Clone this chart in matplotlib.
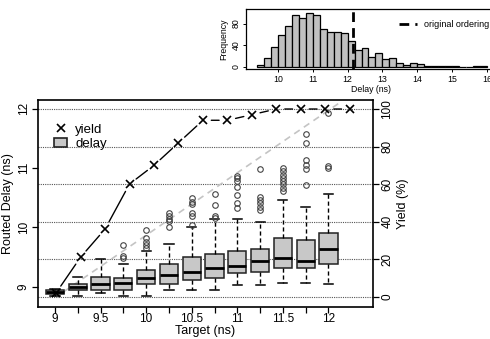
import matplotlib
matplotlib.use('Agg')
import matplotlib.pyplot as plt
from matplotlib.lines import Line2D
from matplotlib.patches import Patch
from matplotlib.transforms import blended_transform_factory

plt.rcParams['font.family'] = ['Liberation Sans', 'DejaVu Sans']

# targets (ns), one box per target
targets = [9.0, 9.25, 9.5, 9.75, 10.0, 10.25, 10.5, 10.75, 11.0, 11.25, 11.5, 11.75, 12.0]
target_labels = ['9', '', '9.5', '', '10', '', '10.5', '', '11', '', '11.5', '', '12']

# routed delay box statistics (ns)
med = [8.91, 8.99, 9.04, 9.06, 9.14, 9.20, 9.24, 9.32, 9.35, 9.44, 9.49, 9.43, 9.63]
q1 = [8.87, 8.94, 8.94, 8.94, 9.04, 9.04, 9.12, 9.14, 9.23, 9.24, 9.32, 9.32, 9.39]
q3 = [8.94, 9.04, 9.16, 9.15, 9.29, 9.38, 9.50, 9.55, 9.61, 9.63, 9.82, 9.79, 9.91]
whislo = [8.85, 8.85, 8.90, 8.85, 8.85, 8.94, 8.94, 8.94, 9.03, 9.03, 9.06, 9.06, 9.05]
whishi = [8.96, 9.17, 9.47, 9.38, 9.61, 9.72, 10.00, 10.14, 10.14, 10.09, 10.46, 10.34, 10.56]
fliers = [
    [],
    [],
    [],
    [9.70, 9.52, 9.48],
    [9.96, 9.82, 9.75, 9.70, 9.66],
    [10.25, 10.19, 10.15, 10.11, 10.00],
    [10.49, 10.43, 10.39, 10.25, 10.20, 10.04],
    [10.56, 10.38, 10.19, 10.16],
    [10.86, 10.83, 10.79, 10.68, 10.55, 10.41, 10.32],
    [10.98, 10.51, 10.46, 10.41, 10.35, 10.29],
    [11.00, 10.95, 10.89, 10.84, 10.79, 10.73, 10.67, 10.62],
    [11.57, 11.43, 11.14, 11.06, 10.98, 10.71],
    [11.93, 11.04, 11.00],
]

# yield (%) per target
yield_pct = [2, 21, 36, 60, 70, 82, 94, 94, 97, 100, 100, 100, 100]
yield_ticks = [0, 20, 40, 60, 80, 100]

# light gray reference line (target vs delay)
ref_target = [9.09, 12.12]
ref_delay = [8.91, 12.10]

# histogram of delays for the inset
hist_left = [9.4, 9.6, 9.8, 10.0, 10.2, 10.4, 10.6, 10.8, 11.0, 11.2, 11.4,
             11.6, 11.8, 12.0, 12.2, 12.4, 12.6, 12.8, 13.0, 13.2, 13.4, 13.6,
             13.8, 14.0, 14.2, 14.4, 14.6, 14.8, 15.0, 15.2, 15.4, 15.6, 15.8]
hist_count = [3, 17, 37, 58, 75, 95, 90, 100, 95, 69, 64, 64, 62, 48, 31, 34,
              18, 26, 15, 17, 8, 4, 7, 5, 2, 1, 1, 1, 1, 0, 0, 2, 1]
bin_w = 0.2
orig_delay = 12.15

BOX = '#c8c8c8'

fig = plt.figure(figsize=(4.9, 3.39), dpi=100)
rect = [0.0776, 0.0953, 0.6834, 0.6097]

# ---- main boxplot axes ----
ax = fig.add_axes(rect)
ax2 = fig.add_axes(rect, facecolor='none')

stats = []
for i in range(len(targets)):
    stats.append(dict(med=med[i], q1=q1[i], q3=q3[i], whislo=whislo[i],
                      whishi=whishi[i], fliers=fliers[i]))
ax.bxp(stats, positions=targets, widths=0.2, patch_artist=True, manage_ticks=False,
       boxprops=dict(facecolor=BOX, edgecolor='#222222', linewidth=1.1),
       medianprops=dict(color='black', linewidth=2),
       whiskerprops=dict(color='black', linewidth=1, linestyle=(0, (3, 2))),
       capprops=dict(color='black', linewidth=1.1),
       capwidths=0.1,
       flierprops=dict(marker='o', markersize=4, markerfacecolor='none',
                       markeredgecolor='#444444', markeredgewidth=0.8))

ax.plot(ref_target, ref_delay, color='#c4c4c4', lw=1.2, dashes=(4, 3), zorder=1)

# dotted grid at yield ticks
tr = blended_transform_factory(ax.transAxes, ax2.transData)
for g in yield_ticks:
    ax.plot([0, 1], [g, g], transform=tr, color='#555555', lw=0.8,
            linestyle=(0, (1, 1)), zorder=0)

ax.set_xlim(8.814, 12.487)
ax.set_ylim(8.663, 12.148)
ax.set_xticks(targets)
ax.set_xticklabels(target_labels, fontsize=8.5)
ax.set_yticks([9, 10, 11, 12])
ax.set_yticklabels(['9', '10', '11', '12'], fontsize=8.5, rotation=90, va='center')
ax.tick_params(direction='out', length=4, width=0.9, pad=2)
ax.tick_params(axis='x', pad=0.5)
ax.set_xlabel('Target (ns)', fontsize=9, labelpad=0)
ax.set_ylabel('Routed Delay (ns)', fontsize=9, labelpad=3)
for s in ax.spines.values():
    s.set_linewidth(1.2)

# ---- yield overlay ----
ax2.set_xlim(8.816, 12.235)
ax2.set_ylim(-5.33, 104.8)
ax2.set_frame_on(False)
ax2.xaxis.set_visible(False)
ax2.yaxis.tick_right()
ax2.yaxis.set_label_position('right')
ax2.set_yticks(yield_ticks)
ax2.set_yticklabels([str(v) for v in yield_ticks], fontsize=8.5, rotation=90, va='center')
ax2.tick_params(direction='out', length=4, width=0.9, pad=2)
ax2.set_ylabel('Yield (%)', fontsize=9, labelpad=3)

for i in range(len(targets) - 1):
    ax2.annotate('', xy=(targets[i + 1], yield_pct[i + 1]), xytext=(targets[i], yield_pct[i]),
                 arrowprops=dict(arrowstyle='-', color='black', lw=1,
                                 shrinkA=6, shrinkB=6))
ax2.plot(targets, yield_pct, ls='none', marker='x', ms=5.5, mew=1.2, color='black')

handles = [Line2D([], [], ls='none', marker='x', ms=6, mew=1.2, color='black'),
           Patch(facecolor=BOX, edgecolor='#222222', linewidth=1.2)]
ax2.legend(handles, ['yield', 'delay'], loc='upper left', bbox_to_anchor=(0.02, 0.93),
           frameon=False, fontsize=9.5, handlelength=1.0, handletextpad=0.6,
           labelspacing=0.15, borderpad=0.2)

# ---- histogram inset ----
axh = fig.add_axes([0.502, 0.796, 0.510, 0.177])
axh.bar(hist_left, hist_count, width=bin_w, align='edge', color='#c0c0c0',
        edgecolor='black', linewidth=0.9)
axh.axvline(orig_delay, color='black', lw=2, dashes=(3.5, 2.2), label='original ordering')
axh.set_xlim(9.08, 16.26)
axh.set_ylim(-4.2, 106.5)
axh.set_xticks([10, 11, 12, 13, 14, 15, 16])
axh.set_yticks([0, 40, 80])
axh.set_yticklabels(['0', '40', '80'], rotation=90, va='center')
axh.tick_params(direction='out', length=2.5, width=0.7, pad=1.5, labelsize=6.3)
axh.set_xlabel('Delay (ns)', fontsize=6.3, labelpad=1)
axh.set_ylabel('Frequency', fontsize=6.3, labelpad=2)
for s in axh.spines.values():
    s.set_linewidth(0.9)
axh.legend(loc='upper right', bbox_to_anchor=(1.0, 0.93), frameon=False, fontsize=6.5,
           handlelength=2.0, handletextpad=0.8, borderpad=0.2)

fig.savefig('out.png', dpi=100)
